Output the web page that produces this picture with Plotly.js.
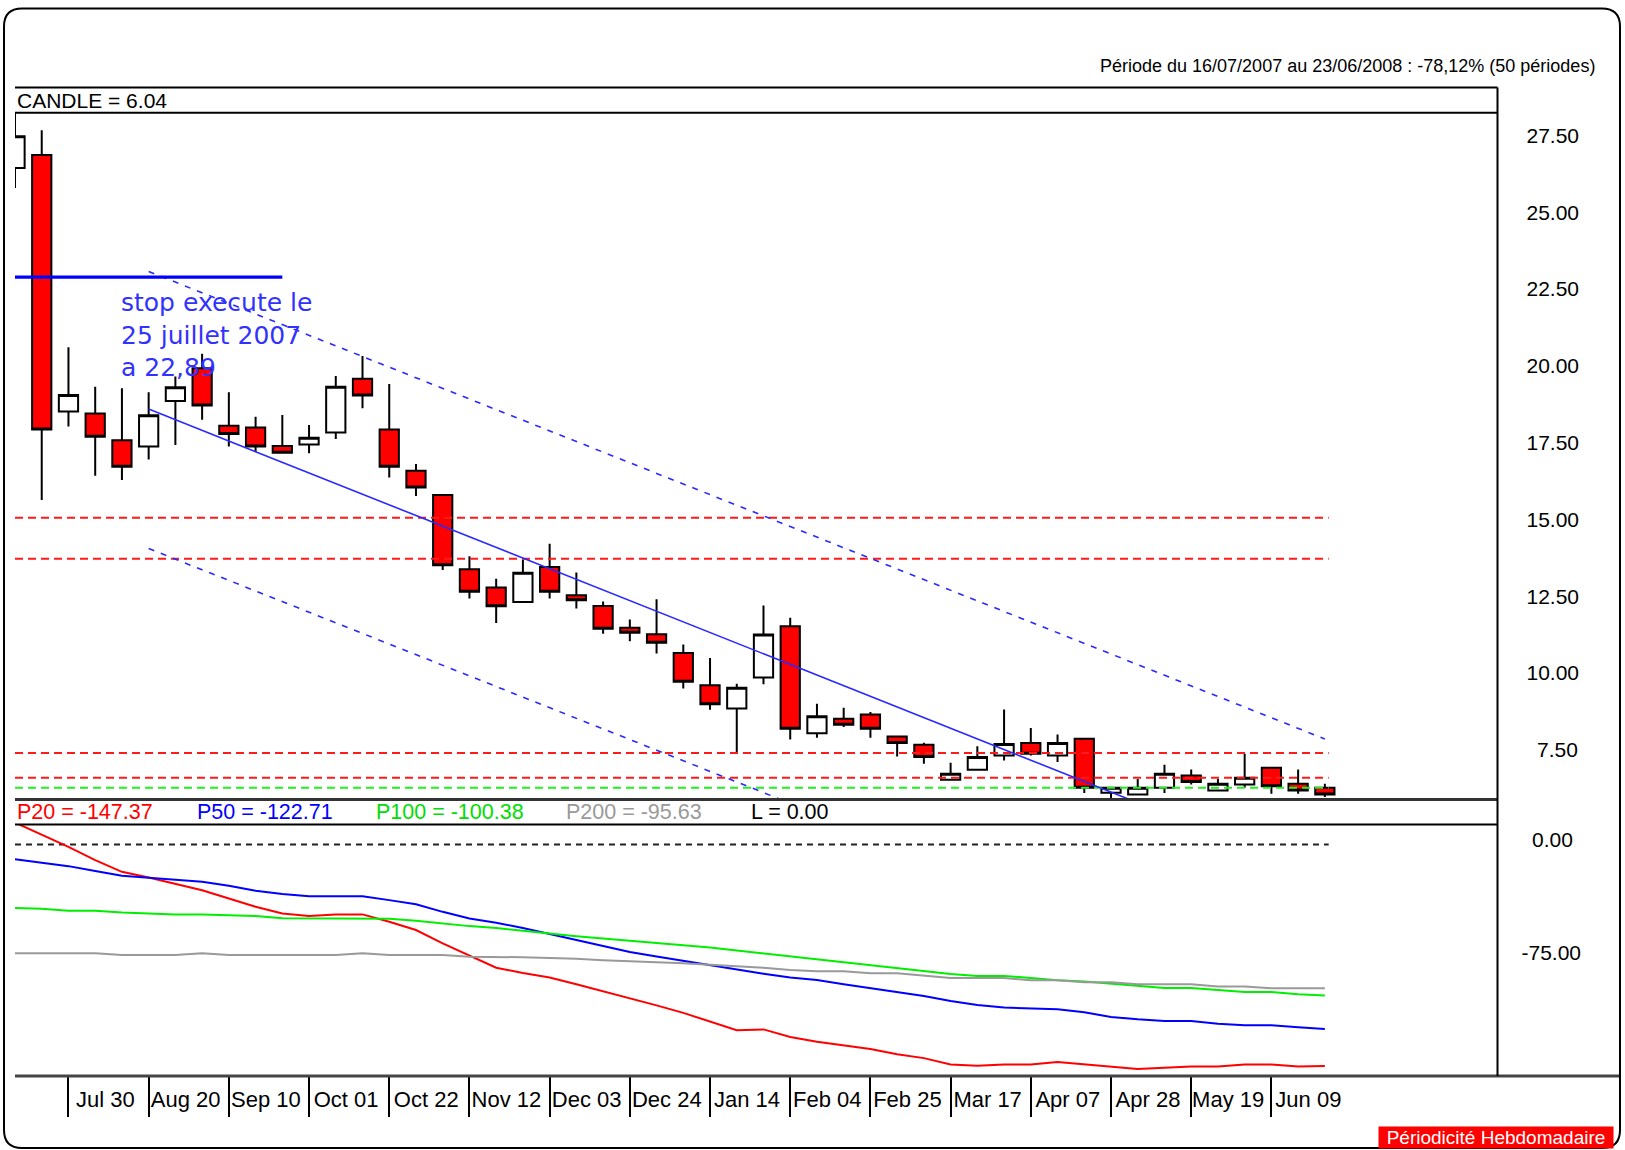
<!DOCTYPE html>
<html>
<head>
<meta charset="utf-8">
<script src="https://cdn.plot.ly/plotly-3.0.1.min.js"></script>
<style>
html,body{margin:0;padding:0;background:#ffffff;}
#chart{width:1625px;height:1150px;}
</style>
</head>
<body>
<div id="chart"></div>
<script>
// ---------- DATA ----------
const weeks = [
  '2007-07-16','2007-07-23','2007-07-30','2007-08-06','2007-08-13','2007-08-20','2007-08-27',
  '2007-09-03','2007-09-10','2007-09-17','2007-09-24','2007-10-01','2007-10-08','2007-10-15',
  '2007-10-22','2007-10-29','2007-11-05','2007-11-12','2007-11-19','2007-11-26','2007-12-03',
  '2007-12-10','2007-12-17','2007-12-24','2007-12-31','2008-01-07','2008-01-14','2008-01-21',
  '2008-01-28','2008-02-04','2008-02-11','2008-02-18','2008-02-25','2008-03-03','2008-03-10',
  '2008-03-17','2008-03-24','2008-03-31','2008-04-07','2008-04-14','2008-04-21','2008-04-28',
  '2008-05-05','2008-05-12','2008-05-19','2008-05-26','2008-06-02','2008-06-09','2008-06-16',
  '2008-06-23'
];
const openP  = [26.44,26.86,18.51,18.45,17.58,17.37,18.85,19.92,18.05,17.99,17.39,17.44,17.83,19.58,
                17.93,16.58,15.79,13.38,12.78,12.31,13.45,12.53,12.18,11.47,11.26,10.65,9.60,8.84,
                9.85,11.52,8.04,8.51,8.65,7.93,7.66,6.52,6.85,7.31,7.72,7.31,7.86,6.10,6.04,6.26,
                6.66,6.17,6.37,6.91,6.39,6.26];
const highP  = [28.60,27.67,20.60,19.32,19.27,19.14,19.65,20.39,19.14,18.34,18.40,18.07,19.67,20.32,
                19.41,16.80,15.82,13.80,13.07,13.69,14.21,13.27,12.33,11.74,12.40,10.93,10.49,9.65,
                12.20,11.80,9.00,8.87,8.73,7.95,7.73,7.08,7.61,8.81,8.21,8.00,7.88,6.28,6.55,7.01,
                6.86,6.55,7.37,6.93,6.86,6.39];
const lowP   = [25.79,15.63,18.02,16.42,16.28,16.95,17.42,18.24,17.37,17.20,17.15,17.15,17.62,18.62,
                16.36,15.76,13.35,12.42,11.63,12.28,12.42,12.10,11.28,11.03,10.63,9.49,8.80,7.39,
                9.63,7.83,7.89,8.24,7.89,7.28,7.04,6.50,6.83,7.15,7.31,7.10,6.09,5.80,6.01,6.09,
                6.37,6.15,6.26,6.07,6.07,5.96];
const closeP = [27.47,17.93,19.05,17.69,16.71,18.39,19.30,18.71,17.78,17.37,17.17,17.66,19.32,19.03,
                16.71,16.04,13.51,12.64,12.17,13.26,12.64,12.37,11.44,11.31,10.98,9.71,8.98,9.52,
                11.25,8.18,8.59,8.31,8.18,7.72,7.26,6.72,7.26,7.69,7.37,7.72,6.26,6.26,6.26,6.72,
                6.45,6.39,6.59,6.31,6.17,6.04];

const tickDates  = ['2007-07-30','2007-08-20','2007-09-10','2007-10-01','2007-10-22','2007-11-12',
                    '2007-12-03','2007-12-24','2008-01-14','2008-02-04','2008-02-25','2008-03-17',
                    '2008-04-07','2008-04-28','2008-05-19','2008-06-09'];
const tickLabels = ['Jul 30','Aug 20','Sep 10','Oct 01','Oct 22','Nov 12','Dec 03','Dec 24',
                    'Jan 14','Feb 04','Feb 25','Mar 17','Apr 07','Apr 28','May 19','Jun 09'];
const priceTicks = [7.5,10,12.5,15,17.5,20,22.5,25,27.5];
const oscTicks   = [0,-75];

const redLevels   = [15.05,13.72,7.39,6.59];
const greenLevels = [6.26];
const levelDates  = ['2007-07-16','2008-06-24'];

const stopLevel = 22.89;
const stopDates = ['2007-07-16','2007-09-24'];

const channelDates = ['2007-08-20','2008-06-23'];
const channelMid   = [18.59,3.35];
const channelUp    = [23.07,7.85];
const channelLow   = [14.05,-1.15];

const p20 = [14.6,6.6,-1.6,-10.4,-18.2,-21.9,-25.9,-30.4,-35.9,-41.4,-45.9,-47.6,-46.5,-46.5,
             -51.4,-56.9,-65.8,-74.0,-82.0,-85.5,-88.5,-93.0,-97.5,-102.0,-107.0,-112.0,-117.5,
             -123.5,-123.0,-128.0,-131.2,-133.9,-136.1,-139.6,-142.1,-146.3,-147.2,-146.3,-146.3,
             -144.7,-146.3,-147.6,-149.4,-148.5,-147.6,-147.6,-146.3,-146.3,-147.6,-147.37];
const p50 = [-9.8,-12.2,-14.4,-17.7,-20.8,-22.2,-23.3,-24.8,-27.5,-30.8,-33.0,-34.4,-34.4,-34.4,
             -37.0,-39.7,-44.8,-49.2,-52.1,-55.5,-59.5,-63.5,-67.5,-71.5,-74.5,-77.5,-80.5,-83.5,
             -86.0,-88.5,-90.1,-93.0,-95.7,-98.1,-100.8,-104.1,-106.7,-108.5,-109.2,-109.6,-111.6,
             -114.7,-116.3,-117.4,-117.4,-119.2,-120.3,-120.3,-121.6,-122.71];
const p100 = [-42.3,-42.8,-44.1,-44.1,-45.2,-45.9,-46.5,-46.5,-47.0,-47.6,-49.0,-49.0,-49.0,-49.0,
              -49.4,-50.7,-52.5,-54.3,-55.6,-57.5,-59.5,-61.0,-62.5,-64.0,-65.5,-67.0,-68.5,-70.5,
              -72.5,-74.5,-76.3,-78.3,-80.1,-82.3,-84.3,-86.1,-87.4,-87.4,-88.8,-90.3,-91.2,-92.5,
              -94.1,-95.4,-95.4,-97.0,-98.1,-98.1,-99.6,-100.38];
const p200 = [-72.4,-72.4,-72.4,-72.4,-73.5,-73.5,-73.5,-72.4,-73.5,-73.5,-73.5,-73.5,-73.5,-72.4,
              -73.5,-73.5,-73.5,-74.7,-74.7,-75.0,-75.5,-76.0,-77.0,-77.5,-78.0,-79.0,-80.0,-81.0,
              -82.0,-83.5,-84.3,-84.3,-85.7,-85.7,-87.4,-88.8,-88.8,-88.8,-90.3,-90.3,-91.7,-91.7,
              -93.0,-93.0,-93.0,-94.4,-94.4,-95.63,-95.63,-95.63];
const levelL = 0;

const titleText  = 'Période du 16/07/2007 au 23/06/2008 : -78,12% (50 périodes)';
const stopText   = 'stop execute le<br>25 juillet 2007<br>a 22,89';
const periodText = 'Périodicité Hebdomadaire';

// ---------- FIGURE ----------
const W = 1625, H = 1150;
const px = x => x / W;
const py = y => 1 - y / H;
const FONT = 'Liberation Sans, Arial, sans-serif';
const WIDE = 'DejaVu Sans, Verdana, sans-serif';
const last = a => a[a.length - 1];

const traces = [];
traces.push({
  type: 'candlestick', x: weeks, open: openP, high: highP, low: lowP, close: closeP,
  xaxis: 'x', yaxis: 'y', whiskerwidth: 0, hoverinfo: 'skip', showlegend: false,
  increasing: {line: {color: '#000000', width: 2}, fillcolor: '#ffffff'},
  decreasing: {line: {color: '#000000', width: 2}, fillcolor: '#ff0000'}
});
redLevels.forEach(v => traces.push({
  type: 'scatter', mode: 'lines', x: levelDates, y: [v, v], xaxis: 'x', yaxis: 'y',
  line: {color: '#ff1a1a', width: 2, dash: '8px,5px'}, hoverinfo: 'skip', showlegend: false
}));
greenLevels.forEach(v => traces.push({
  type: 'scatter', mode: 'lines', x: levelDates, y: [v, v], xaxis: 'x', yaxis: 'y',
  line: {color: '#22ee22', width: 2, dash: '8px,5px'}, hoverinfo: 'skip', showlegend: false
}));
traces.push({
  type: 'scatter', mode: 'lines', x: channelDates, y: channelMid, xaxis: 'x', yaxis: 'y',
  line: {color: '#2a2aff', width: 1.6}, hoverinfo: 'skip', showlegend: false
});
[channelUp, channelLow].forEach(arr => traces.push({
  type: 'scatter', mode: 'lines', x: channelDates, y: arr, xaxis: 'x', yaxis: 'y',
  line: {color: '#2a2aff', width: 1.6, dash: '6px,7px'}, hoverinfo: 'skip', showlegend: false
}));
traces.push({
  type: 'scatter', mode: 'lines', x: stopDates, y: [stopLevel, stopLevel], xaxis: 'x', yaxis: 'y',
  line: {color: '#0000ff', width: 3.2}, hoverinfo: 'skip', showlegend: false
});
// oscillator
traces.push({
  type: 'scatter', mode: 'lines', x: levelDates, y: [levelL, levelL], xaxis: 'x', yaxis: 'y2',
  line: {color: '#222222', width: 2, dash: '6px,5px'}, hoverinfo: 'skip', showlegend: false
});
const oscSeries = [[p20, '#ff0000'], [p50, '#0000ff'], [p100, '#00ee00'], [p200, '#999999']];
oscSeries.forEach(([arr, col]) => traces.push({
  type: 'scatter', mode: 'lines', x: weeks, y: arr, xaxis: 'x', yaxis: 'y2',
  line: {color: col, width: 2}, hoverinfo: 'skip', showlegend: false
}));

// frame shapes
const xl = 15, xr = 1497.5;
const hline = (y, x0, x1, w, c) => ({type: 'line', xref: 'paper', yref: 'paper',
  x0: px(x0), x1: px(x1), y0: py(y), y1: py(y), line: {color: c || '#000', width: w}});
const bx0 = px(4), bx1 = px(1620), byt = py(8.5), byb = py(1148), rx = 18 / W, ry = 18 / H;
const rounded = `M ${bx0 + rx} ${byt} L ${bx1 - rx} ${byt} Q ${bx1} ${byt} ${bx1} ${byt - ry} ` +
  `L ${bx1} ${byb + ry} Q ${bx1} ${byb} ${bx1 - rx} ${byb} L ${bx0 + rx} ${byb} ` +
  `Q ${bx0} ${byb} ${bx0} ${byb + ry} L ${bx0} ${byt - ry} Q ${bx0} ${byt} ${bx0 + rx} ${byt} Z`;
const shapes = [
  hline(87.5, xl, xr, 2),
  hline(112.7, xl, xr, 2),
  hline(799.5, xl, xr, 3, '#333333'),
  hline(824.5, xl, xr, 2),
  hline(1076, xl, 1619, 3, '#444444'),
  {type: 'line', xref: 'paper', yref: 'paper', x0: px(xr), x1: px(xr), y0: py(87.5), y1: py(1076),
   line: {color: '#000', width: 2}},
  {type: 'path', xref: 'paper', yref: 'paper', path: rounded, line: {color: '#000', width: 2}}
];

const ann = (text, x, y, color, size, xanchor, extra, family) => Object.assign({
  text: text, xref: 'paper', yref: 'paper', x: px(x), y: py(y), xanchor: xanchor || 'left',
  yanchor: 'middle', showarrow: false, font: {family: family || FONT, size: size, color: color}
}, extra || {});

const annotations = [
  ann(titleText, 1597, 65.5, '#000', 18, 'right'),
  ann('CANDLE = ' + last(closeP).toFixed(2), 15, 100.5, '#000', 21),
  ann('P20 = ' + last(p20).toFixed(2), 15, 812, '#ff0000', 21.5),
  ann('P50 = ' + last(p50).toFixed(2), 195, 812, '#0000ff', 21.5),
  ann('P100 = ' + last(p100).toFixed(2), 374, 812, '#00dd00', 21.5),
  ann('P200 = ' + last(p200).toFixed(2), 564, 812, '#999999', 21.5),
  ann('L = ' + levelL.toFixed(2), 749, 812, '#000', 21.5),
  ann(stopText, 119, 335, 'rgb(50,50,255)', 25, 'left', {align: 'left'}, WIDE),
  ann(periodText, 1614, 1137.5, '#ffffff', 19, 'right',
      {bgcolor: '#ff0000', borderpad: 0, width: 234, height: 21, align: 'center', valign: 'middle'})
];

const pad = s => (s.length < 5 ? '\u2002' : '') + s;
const layout = {
  width: W, height: H, autosize: false,
  margin: {l: 0, r: 0, t: 0, b: 0, pad: 0},
  paper_bgcolor: '#ffffff', plot_bgcolor: '#ffffff',
  font: {family: FONT, color: '#000'},
  showlegend: false,
  boxgap: 0.28, boxgroupgap: 0,
  xaxis: {
    type: 'date', domain: [px(xl), px(xr)], range: ['2007-07-16', '2008-08-07 05:00'],
    anchor: 'y2', tickmode: 'array', tickvals: tickDates, ticktext: tickLabels,
    ticks: 'outside', ticklen: 40, tickwidth: 2, tickcolor: '#000',
    ticklabelshift: 37, ticklabelstandoff: -36,
    tickfont: {family: FONT, size: 22, color: '#000'},
    showgrid: false, zeroline: false, showline: false,
    rangeslider: {visible: false}, fixedrange: true
  },
  yaxis: {
    domain: [py(799.5), py(112.7)], range: [5.88, 28.24], anchor: 'x', side: 'right',
    tickmode: 'array', tickvals: priceTicks, ticktext: priceTicks.map(v => pad(v.toFixed(2))),
    ticks: '', ticklabelstandoff: 28, tickfont: {family: FONT, size: 21, color: '#000'},
    showgrid: false, zeroline: false, showline: false, fixedrange: true
  },
  yaxis2: {
    domain: [py(1075.7), py(824.5)], range: [-153.8, 13.3], anchor: 'x', side: 'right',
    tickmode: 'array', tickvals: oscTicks, ticktext: oscTicks.map(v => (v === 0 ? '\u2002' : '') + v.toFixed(2)),
    ticks: '', ticklabelstandoff: 23, ticklabelshift: -5,
    tickfont: {family: FONT, size: 21, color: '#000'},
    showgrid: false, zeroline: false, showline: false, fixedrange: true
  },
  shapes: shapes,
  annotations: annotations
};

Plotly.newPlot('chart', traces, layout, {staticPlot: true, displayModeBar: false});
</script>
</body>
</html>
